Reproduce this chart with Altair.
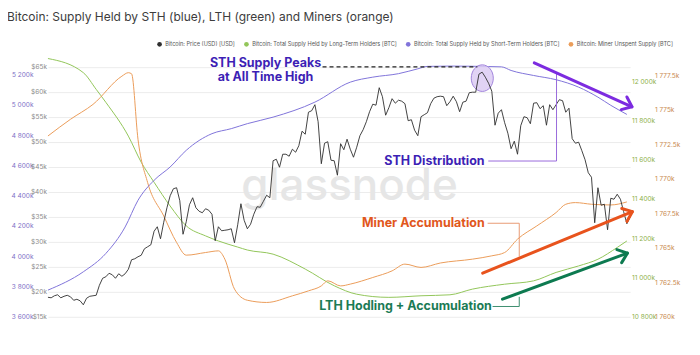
import altair as alt
import pandas as pd

TITLE = "Bitcoin: Supply Held by STH (blue), LTH (green) and Miners (orange)"

SERIES = [
    "Bitcoin: Price (USD) [USD]",
    "Bitcoin: Total Supply Held by Long-Term Holders [BTC]",
    "Bitcoin: Total Supply Held by Short-Term Holders [BTC]",
    "Bitcoin: Miner Unspent Supply [BTC]",
]
SERIES_COLORS = ["#2f2f2f", "#93c65a", "#8174da", "#eb9d5a"]

# daily BTC price in thousands of USD, 1 Dec 2020 .. 31 May 2021
PRICE_DEC = [18.9, 18.8, 19.2, 19.4, 18.8, 19.1, 19.3, 19.0, 18.3, 18.5,
             18.2, 17.4, 18.7, 19.1, 19.2, 19.3, 21.3, 22.7, 23.0, 23.7,
             23.4, 22.7, 23.6, 23.1, 23.6, 24.5, 26.4, 26.6, 27.0, 27.3, 28.6]
PRICE_JAN = [29.0, 29.4, 32.1, 33.0, 30.6, 33.9, 36.8, 39.2, 40.6, 40.8,
             38.2, 31.5, 34.0, 37.4, 38.8, 36.8, 36.1, 35.8, 36.6, 36.3,
             35.5, 30.2, 33.0, 32.2, 32.3, 32.4, 32.6, 29.8, 33.4, 37.6, 34.3]
PRICE_FEB = [32.6, 33.5, 35.5, 37.0, 36.9, 38.1, 39.3, 38.8, 46.2, 46.5,
             44.9, 47.5, 47.5, 47.1, 48.5, 47.9, 49.2, 52.1, 51.5, 55.9,
             56.2, 57.4, 54.0, 45.6, 49.7, 50.0, 46.3, 46.2]
PRICE_MAR = [43.3, 49.6, 48.4, 50.5, 48.5, 46.9, 48.9, 51.2, 52.4, 54.0,
             56.0, 57.5, 57.3, 60.8, 59.0, 55.3, 56.8, 58.6, 57.7, 58.3,
             58.1, 57.6, 54.2, 54.4, 52.3, 51.2, 55.0, 55.4, 55.8, 57.6, 58.7]
PRICE_APR = [59.0, 59.1, 59.0, 57.2, 58.0, 59.1, 58.0, 56.0, 57.9, 58.1,
             59.8, 59.9, 59.9, 63.5, 63.9, 62.9, 61.7, 60.1, 53.3, 55.7,
             56.4, 53.8, 51.7, 48.6, 50.1, 47.5, 53.2, 55.0, 54.8, 53.6]
PRICE_MAY = [57.7, 57.8, 56.6, 57.2, 53.3, 57.4, 56.4, 57.4, 58.4, 58.2,
             55.9, 56.7, 50.6, 49.7, 49.9, 48.2, 46.4, 43.8, 42.9, 33.8,
             40.8, 37.3, 37.5, 32.4, 38.7, 38.5, 39.5, 38.5, 36.0, 33.6, 34.9]

# Short-term holder supply (thousand BTC)
STH_DATES = ["2020-12-01", "2020-12-12", "2020-12-19", "2020-12-25", "2020-12-29",
             "2021-01-03", "2021-01-08", "2021-01-13", "2021-01-21", "2021-01-27",
             "2021-02-01", "2021-02-09", "2021-02-22", "2021-03-05", "2021-03-12",
             "2021-03-20", "2021-03-26", "2021-03-29", "2021-04-05", "2021-04-17",
             "2021-04-21", "2021-04-24", "2021-05-01", "2021-05-08", "2021-05-15",
             "2021-05-21", "2021-05-25", "2021-05-30"]
STH_VALUES = [3776, 3897, 4018, 4193, 4369, 4501, 4589, 4699, 4809, 4842,
              4875, 4918, 5017, 5149, 5182, 5205, 5237, 5253, 5255, 5252,
              5250, 5226, 5193, 5165, 5116, 5050, 4996, 4936]

# Long-term holder supply (thousand BTC)
LTH_DATES = ["2020-12-01", "2020-12-12", "2020-12-16", "2020-12-19", "2020-12-26",
             "2020-12-30", "2021-01-03", "2021-01-08", "2021-01-13", "2021-01-19",
             "2021-01-23", "2021-01-29", "2021-02-01", "2021-02-09", "2021-02-19",
             "2021-02-28", "2021-03-07", "2021-03-17", "2021-03-27", "2021-04-05",
             "2021-04-12", "2021-04-22", "2021-05-01", "2021-05-08", "2021-05-15",
             "2021-05-21", "2021-05-27", "2021-05-30"]
LTH_VALUES = [12115, 12043, 11958, 11892, 11720, 11587, 11485, 11364, 11263, 11212,
              11186, 11155, 11140, 11119, 11043, 10958, 10915, 10899, 10907, 10912,
              10941, 10966, 10983, 11026, 11059, 11093, 11153, 11186]

# Miner unspent supply (thousand BTC)
MINER_DATES = ["2020-12-01", "2020-12-08", "2020-12-15", "2020-12-24", "2020-12-26",
               "2020-12-27", "2020-12-29", "2021-01-01", "2021-01-06", "2021-01-10",
               "2021-01-13", "2021-01-19", "2021-01-23", "2021-01-25", "2021-01-28",
               "2021-02-01", "2021-02-07", "2021-02-15", "2021-02-20", "2021-02-24",
               "2021-02-26", "2021-03-02", "2021-03-05", "2021-03-12", "2021-03-18",
               "2021-03-22", "2021-03-27", "2021-04-02", "2021-04-12", "2021-04-18",
               "2021-04-22", "2021-04-26", "2021-05-02", "2021-05-08", "2021-05-11",
               "2021-05-14", "2021-05-19", "2021-05-25", "2021-05-30"]
MINER_VALUES = [1773.11, 1774.32, 1775.40, 1777.45, 1777.70, 1777.62, 1772.87, 1769.73,
                1767.31, 1765.39, 1764.47, 1764.66, 1764.78, 1764.18, 1762.01, 1761.20,
                1761.04, 1761.52, 1761.88, 1762.24, 1762.61, 1762.24, 1762.37, 1762.85,
                1763.33, 1763.82, 1763.58, 1763.90, 1764.18, 1764.42, 1764.66, 1765.63,
                1766.59, 1767.56, 1768.16, 1768.28, 1768.16, 1768.11, 1768.33]

X_TICKS = ["2020-12-14", "2020-12-28", "2021-01-11", "2021-01-25", "2021-02-08",
           "2021-02-22", "2021-03-08", "2021-03-22", "2021-04-05", "2021-04-19",
           "2021-05-03", "2021-05-17", "2021-05-31"]
PRICE_TICKS = [15, 20, 25, 30, 35, 40, 45, 50, 55, 60, 65]
STH_TICKS = [3600, 3800, 4000, 4200, 4400, 4600, 4800, 5000, 5200]
LTH_TICKS = [10800, 11000, 11200, 11400, 11600, 11800, 12000]
MINER_TICKS = [1760, 1762.5, 1765, 1767.5, 1770, 1772.5, 1775, 1777.5]

# ---- annotations (in date / price-in-k$ coordinates) ----
ANN_TEXTS = [
    ("STH Supply Peaks", "2021-02-06T16:00:00Z", 65.64, "#3d1fb5"),
    ("at All Time High", "2021-02-06T16:00:00Z", 62.97, "#3d1fb5"),
    ("STH Distribution", "2021-03-31T04:00:00Z", 46.14, "#3d1fb5"),
    ("Miner Accumulation", "2021-03-27T17:00:00Z", 33.70, "#e1571c"),
    ("LTH Hodling + Accumulation", "2021-03-22T04:00:00Z", 17.06, "#1b7b55"),
]
BRACKETS = [
    (["2021-04-16T22:00:00Z", "2021-05-08T03:00:00Z", "2021-05-08T03:00:00Z"], [46.14, 46.14, 63.71], "#9a6bdc"),
    (["2021-04-16T17:00:00Z", "2021-04-26T13:00:00Z", "2021-04-26T13:00:00Z"], [33.70, 33.70, 27.04], "#e89b74"),
    (["2021-04-18T06:00:00Z", "2021-04-26T13:00:00Z", "2021-04-26T13:00:00Z"], [17.06, 17.06, 18.99], "#3f8f70"),
]
DASH_DATES = ["2021-02-24T09:00:00Z", "2021-04-13T12:00:00Z"]
DASH_PRICES = [64.96, 64.96]
ARROWS = [  # start date, start price, tip date, tip price, colour, head angle
    ("2021-05-01T05:00:00Z", 65.76, "2021-05-31T14:00:00Z", 56.98, "#7c2be0", 24.1),
    ("2021-04-15T04:00:00Z", 23.72, "2021-05-31T17:00:00Z", 36.02, "#e8531d", 337.7),
    ("2021-04-21T08:00:00Z", 18.53, "2021-05-30T04:00:00Z", 27.72, "#0d7a50", 339.8),
]
PEAK_CIRCLE = ("2021-04-15T01:00:00Z", 62.71)
WATERMARK = ("glassnode", "2021-03-04T18:00:00Z", 38.36)

# ---------------------------------------------------------------
W, H = 583, 262
PRICE_DOMAIN = [15, 67.3]
STH_DOMAIN = [3600, 5327]
LTH_DOMAIN = [10800, 12132]
MINER_DOMAIN = [1760, 1778.97]
FONT = "Inter"


def dt(s):
    return alt.DateTime(year=int(s[:4]), month=int(s[5:7]), date=int(s[8:10]), utc=True)


def iso(s):
    return s if "T" in s else s + "T00:00:00Z"


X_SCALE = alt.Scale(type="utc", domain=[dt("2020-12-01"), dt("2021-05-31")])
X_AXIS = alt.Axis(values=[dt(s) for s in X_TICKS], format="%-d. %b", formatType="utc",
                  labelFont=FONT, labelFontSize=6.5, labelColor="#8a8a8a", labelPadding=11,
                  domain=False, ticks=False, grid=False, labelOverlap=False)
PRICE_SCALE = alt.Scale(domain=PRICE_DOMAIN, nice=False, zero=False)
COLOR_SCALE = alt.Scale(domain=SERIES, range=SERIES_COLORS)


def yaxis(orient, values, expr, color, offset=0, pad=1.5, grid=False):
    return alt.Axis(orient=orient, values=values, labelExpr=expr, labelColor=color,
                    labelFont=FONT, labelFontSize=6.5, labelPadding=pad, offset=offset,
                    domain=False, ticks=False, grid=grid, gridColor="#ececec",
                    labelOverlap=False)


K_EXPR = "replace(format(datum.value, ',d'), ',', ' ') + 'k'"
K_EXPR_DEC = "replace(format(datum.value, datum.value % 1 ? ',.1f' : ',d'), ',', ' ') + 'k'"

PRICE_AXIS = yaxis("left", PRICE_TICKS, "'$' + datum.value + 'k'", "#8a8a8a", 0, 1.5, True)
STH_AXIS = yaxis("left", STH_TICKS, K_EXPR, "#7e70c6", 14, 1)
LTH_AXIS = yaxis("right", LTH_TICKS, K_EXPR, "#8db04a", 0, 1.5)
MINER_AXIS = yaxis("right", MINER_TICKS, K_EXPR_DEC, "#c98a4f", 23, 1.5)

price_dates = [d.strftime("%Y-%m-%dT%H:%M:%SZ") for d in
               pd.date_range("2020-12-01", periods=182, freq="D")]
price_vals = PRICE_DEC + PRICE_JAN + PRICE_FEB + PRICE_MAR + PRICE_APR + PRICE_MAY
price_df = pd.DataFrame({"date": price_dates, "value": price_vals})
lth_df = pd.DataFrame({"date": [iso(s) for s in LTH_DATES], "value": LTH_VALUES})
sth_df = pd.DataFrame({"date": [iso(s) for s in STH_DATES], "value": STH_VALUES})
miner_df = pd.DataFrame({"date": [iso(s) for s in MINER_DATES], "value": MINER_VALUES})


def series_line(df, domain, axis, color, width=1.0, interp="monotone"):
    return alt.Chart(df).mark_line(strokeWidth=width, interpolate=interp, color=color).encode(
        x=alt.X("date:T", scale=X_SCALE, axis=X_AXIS if axis is PRICE_AXIS else None, title=None),
        y=alt.Y("value:Q", scale=alt.Scale(domain=domain, nice=False, zero=False), axis=axis, title=None),
    )


def ann_enc(chart):
    return chart.encode(
        x=alt.X("date:T", scale=X_SCALE, axis=None),
        y=alt.Y("price:Q", scale=PRICE_SCALE, axis=None),
    )


layers = []

wm_df = pd.DataFrame({"t": [WATERMARK[0]], "date": [WATERMARK[1]], "price": [WATERMARK[2]]})
layers.append(ann_enc(alt.Chart(wm_df).mark_text(
    font=FONT, fontSize=44, fontWeight=500, color="#e6e6e6", align="center",
    baseline="alphabetic")).encode(text="t:N"))

layers.append(series_line(lth_df, LTH_DOMAIN, LTH_AXIS, SERIES_COLORS[1]))
layers.append(series_line(miner_df, MINER_DOMAIN, MINER_AXIS, SERIES_COLORS[3]))
layers.append(series_line(sth_df, STH_DOMAIN, STH_AXIS, SERIES_COLORS[2]))

circ_df = pd.DataFrame({"date": [PEAK_CIRCLE[0]], "price": [PEAK_CIRCLE[1]]})
ELLIPSE = "M0,-1A0.83,1,0,1,1,0,1A0.83,1,0,1,1,0,-1Z"
layers.append(ann_enc(alt.Chart(circ_df).mark_point(
    shape=ELLIPSE, size=708, filled=True, fill="#dccbf3", fillOpacity=0.85,
    stroke="#a285dc", strokeWidth=1, opacity=1)))

layers.append(series_line(price_df, PRICE_DOMAIN, PRICE_AXIS, SERIES_COLORS[0], width=0.9, interp="linear"))

dash_df = pd.DataFrame({"date": DASH_DATES, "price": DASH_PRICES, "i": [0, 1]})
layers.append(ann_enc(alt.Chart(dash_df).mark_line(
    color="#222222", strokeWidth=1.1, strokeDash=[4, 3])).encode(order="i:O"))

for txt, d, p, c in ANN_TEXTS:
    tdf = pd.DataFrame({"t": [txt], "date": [d], "price": [p]})
    layers.append(ann_enc(alt.Chart(tdf).mark_text(
        font=FONT, fontSize=12.5, fontWeight="bold", color=c, align="center",
        baseline="middle")).encode(text="t:N"))

for dates, prices, c in BRACKETS:
    bdf = pd.DataFrame({"date": dates, "price": prices, "i": [0, 1, 2]})
    layers.append(ann_enc(alt.Chart(bdf).mark_line(color=c, strokeWidth=1)).encode(order="i:O"))

CHEVRON = "M-1,-0.8L0,0L-1,0.8"
for d0, p0, d1, p1, c, ang in ARROWS:
    adf = pd.DataFrame({"date": [d0, d1], "price": [p0, p1], "i": [0, 1]})
    layers.append(ann_enc(alt.Chart(adf).mark_line(color=c, strokeWidth=3, strokeCap="round")).encode(order="i:O"))
    hdf = pd.DataFrame({"date": [d1], "price": [p1]})
    layers.append(ann_enc(alt.Chart(hdf).mark_point(
        shape=CHEVRON, size=300, angle=ang, filled=False, color=c, strokeWidth=3,
        opacity=1, strokeCap="round", strokeJoin="round")))

legend_df = pd.DataFrame({"series": SERIES})
layers.append(alt.Chart(legend_df).mark_circle(opacity=0).encode(
    color=alt.Color("series:N", scale=COLOR_SCALE, legend=alt.Legend(
        orient="none", legendX=109, legendY=-14, direction="horizontal", columns=4,
        columnPadding=8, symbolType="circle", symbolSize=22, symbolOpacity=1,
        symbolStrokeWidth=0, labelFont=FONT, labelFontSize=5.6, labelColor="#555555",
        labelLimit=400, labelOffset=3, title=None, padding=0))))

chart = alt.layer(*layers).resolve_scale(y="independent").properties(
    width=W, height=H,
    title=alt.TitleParams(TITLE, anchor="start", frame="group", dx=-41, offset=17,
                          font=FONT, fontSize=12, fontWeight="normal", color="#3d3d3d"),
    autosize=alt.AutoSizeParams(type="none"),
    padding={"left": 40, "top": 47, "right": 62, "bottom": 30},
).configure_view(stroke=None)

chart.save("out.html", embed_options={"renderer": "svg", "actions": False})
